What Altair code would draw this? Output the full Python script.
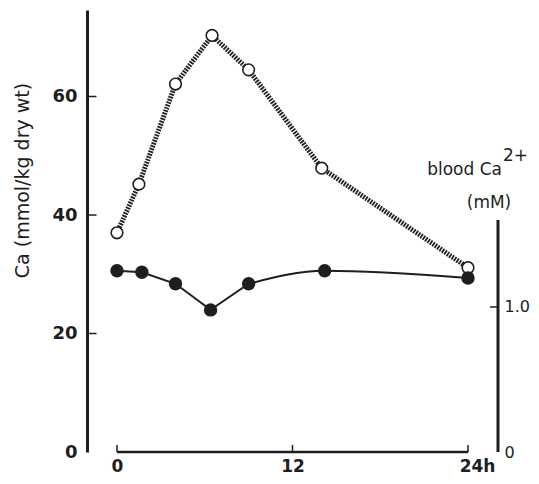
import altair as alt
import pandas as pd

# ---- data ----
tissue_hours = [0, 1.5, 4, 6.5, 9, 14, 24]
tissue_ca = [37.0, 45.2, 62.1, 70.3, 64.5, 47.9, 31.1]          # mmol/kg dry wt (left axis)
blood_hours = [0, 1.7, 4, 6.4, 9, 14.2, 24]
blood_ca = [1.25, 1.24, 1.16, 0.98, 1.16, 1.25, 1.20]           # mM (right axis)

x_ticks = [0, 12, 24]
left_ticks = [0, 20, 40, 60]
right_ticks = [0, 1.0]
right_title = ["blood Ca", "2+", "(mM)"]
left_title = "Ca (mmol/kg dry wt)"

X_DOMAIN = [-2.05, 26.05]
LEFT_DOMAIN = [0, 74.6]
RIGHT_DOMAIN = [0, 3.048]
RIGHT_AXIS_TOP = 1.6
SMOOTH_FROM = 9   # blood curve is drawn smooth from this hour onward

FONT = "DejaVu Sans"
INK = "#1e1e1e"

x_scale = alt.Scale(domain=X_DOMAIN, nice=False, zero=False)
yl_scale = alt.Scale(domain=LEFT_DOMAIN, nice=False, zero=False)
yr_scale = alt.Scale(domain=RIGHT_DOMAIN, nice=False, zero=False)

x_axis = alt.Axis(
    values=x_ticks, domain=False, ticks=False, tickSize=0, grid=False,
    labelFont=FONT, labelFontSize=17, labelFontWeight="bold", labelColor=INK,
    labelPadding=6, labelFlush=False,
    labelExpr="datum.value == 24 ? '24h' : datum.label",
    labelOffset={"condition": {"test": "datum.value == 24", "value": 9}, "value": 0},
    title=None,
)
left_axis = alt.Axis(
    values=left_ticks, domain=True, domainWidth=3, domainColor=INK,
    ticks=False, tickSize=0, grid=False,
    labelFont=FONT, labelFontSize=18, labelFontWeight="bold", labelColor=INK,
    labelPadding=10,
    title=left_title, titleFont=FONT, titleFontSize=19, titleFontWeight="normal",
    titleColor=INK, titleAngle=270, titleX=-65, titleY=170,
    titleAlign="center", titleBaseline="middle",
)
right_axis = alt.Axis(
    orient="right", values=right_ticks, domain=False, ticks=False, tickSize=0,
    grid=False, labelFont=FONT, labelFontSize=16, labelColor=INK, labelPadding=6,
    labelExpr="datum.value == 0 ? '0' : format(datum.value, '.1f')",
    title=None,
)


def X(field):
    return alt.X(field, type="quantitative", scale=x_scale, axis=x_axis)


def YL(field):
    return alt.Y(field, type="quantitative", scale=yl_scale, axis=left_axis)


def YR(field):
    return alt.Y(field, type="quantitative", scale=yr_scale, axis=right_axis)


tissue_df = pd.DataFrame({"hours": tissue_hours, "ca": tissue_ca})
blood_df = pd.DataFrame({"hours": blood_hours, "ca": blood_ca})
bottom_line_df = pd.DataFrame({"x": [x_ticks[0]], "x2": [x_ticks[-1]], "y": [0]})
bottom_ticks_df = pd.DataFrame({"x": x_ticks, "y": [0] * 3, "y2": [1.2] * 3})
left_ticks_df = pd.DataFrame({"x": [X_DOMAIN[0]] * 3, "x2": [X_DOMAIN[0] + 0.65] * 3,
                              "y": left_ticks[1:]})
right_line_df = pd.DataFrame({"x": [X_DOMAIN[1]], "y": [0], "y2": [RIGHT_AXIS_TOP]})
right_tick_df = pd.DataFrame({"x": [X_DOMAIN[1] - 0.55], "x2": [X_DOMAIN[1]], "y": [1.0]})

# ---- left-scale layer ----
tissue_line = alt.Chart(tissue_df).mark_line(
    color="#222222", strokeWidth=5, strokeDash=[1.8, 1.1]
).encode(x=X("hours"), y=YL("ca"))
tissue_pts = alt.Chart(tissue_df).mark_point(
    shape="circle", filled=True, fill="white", stroke=INK, strokeWidth=1.6,
    size=135, opacity=1
).encode(x=X("hours"), y=YL("ca"))
bottom_line = alt.Chart(bottom_line_df).mark_rule(color=INK, strokeWidth=2.5).encode(
    x=X("x"), x2="x2", y=YL("y"))
bottom_ticks = alt.Chart(bottom_ticks_df).mark_rule(color=INK, strokeWidth=1.5).encode(
    x=X("x"), y=YL("y"), y2="y2")
left_ticks_m = alt.Chart(left_ticks_df).mark_rule(color=INK, strokeWidth=1.5).encode(
    x=X("x"), x2="x2", y=YL("y"))

layer_left = alt.layer(bottom_line, bottom_ticks, left_ticks_m, tissue_line, tissue_pts)

# ---- right-scale layer ----
blood_line_a = alt.Chart(blood_df).transform_filter(
    alt.datum.hours <= SMOOTH_FROM
).mark_line(color=INK, strokeWidth=2).encode(x=X("hours"), y=YR("ca"))
blood_line_b = alt.Chart(blood_df).transform_filter(
    alt.datum.hours >= SMOOTH_FROM
).mark_line(color=INK, strokeWidth=2, interpolate="monotone").encode(
    x=X("hours"), y=YR("ca"))
blood_pts = alt.Chart(blood_df).mark_circle(size=180, color=INK, opacity=1).encode(
    x=X("hours"), y=YR("ca"))
right_line = alt.Chart(right_line_df).mark_rule(color=INK, strokeWidth=3).encode(
    x=X("x"), y=YR("y"), y2="y2")
right_tick = alt.Chart(right_tick_df).mark_rule(color=INK, strokeWidth=1.5).encode(
    x=X("x"), x2="x2", y=YR("y"))

layer_right = alt.layer(right_line, right_tick, blood_line_a, blood_line_b, blood_pts)

# ---- right axis title ----
t1 = alt.Chart(pd.DataFrame({"t": [right_title[0]]})).mark_text(
    font=FONT, fontSize=17, color=INK, align="right", baseline="middle"
).encode(text="t:N", x=alt.value(415), y=alt.value(160))
t2 = alt.Chart(pd.DataFrame({"t": [right_title[1]]})).mark_text(
    font=FONT, fontSize=17, color=INK, align="left", baseline="middle"
).encode(text="t:N", x=alt.value(416), y=alt.value(146))
t3 = alt.Chart(pd.DataFrame({"t": [right_title[2]]})).mark_text(
    font=FONT, fontSize=17, color=INK, align="center", baseline="middle"
).encode(text="t:N", x=alt.value(402), y=alt.value(193))

chart = alt.layer(layer_left, layer_right, t1, t2, t3).resolve_scale(
    y="independent"
).properties(
    width=411, height=442,
    autosize=alt.AutoSizeParams(type="none"),
    padding={"left": 79, "top": 2, "right": 32, "bottom": 24},
    background="white",
).configure_view(stroke=None)

chart.save("out.html", embed_options={"renderer": "svg", "actions": False})
